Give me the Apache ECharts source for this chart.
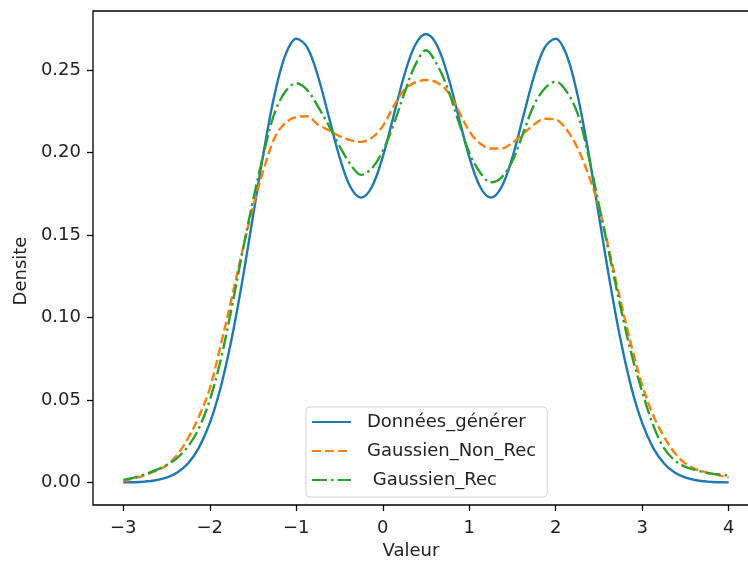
<!DOCTYPE html>
<html>
<head>
<meta charset="utf-8">
<script src="https://cdn.jsdelivr.net/npm/echarts@6/dist/echarts.min.js"></script>
<style>
html,body{margin:0;padding:0;background:#fff;overflow:hidden;width:748px;height:565px;}
#chart{width:760px;height:565px;}
</style>
</head>
<body>
<div id="chart"></div>
<script>
// x positions of the sampled points (step 0.125)
const xValues = [-3, -2.875, -2.75, -2.625, -2.5, -2.375, -2.25, -2.125, -2, -1.875, -1.75, -1.625, -1.5, -1.375, -1.25, -1.125, -1, -0.875, -0.75, -0.625, -0.5, -0.375, -0.25, -0.125, 0, 0.125, 0.25, 0.375, 0.5, 0.625, 0.75, 0.875, 1, 1.125, 1.25, 1.375, 1.5, 1.625, 1.75, 1.875, 2, 2.125, 2.25, 2.375, 2.5, 2.625, 2.75, 2.875, 3, 3.125, 3.25, 3.375, 3.5, 3.625, 3.75, 3.875, 4];
// series values
const donneesGenerer = [0.0001, 0.0002, 0.0006, 0.0014, 0.003, 0.0061, 0.0117, 0.0212, 0.036, 0.0575, 0.0864, 0.1218, 0.1614, 0.201, 0.2353, 0.2592, 0.269, 0.2639, 0.2464, 0.222, 0.1973, 0.1793, 0.1727, 0.1793, 0.1974, 0.2222, 0.247, 0.2652, 0.2719, 0.2652, 0.247, 0.2222, 0.1974, 0.1793, 0.1727, 0.1793, 0.1973, 0.222, 0.2464, 0.2639, 0.269, 0.2592, 0.2353, 0.201, 0.1614, 0.1218, 0.0864, 0.0575, 0.036, 0.0212, 0.0117, 0.0061, 0.003, 0.0014, 0.0006, 0.0002, 0.0001];
const gaussienNonRec = [0.001, 0.0025, 0.0045, 0.007, 0.0105, 0.017, 0.027, 0.040, 0.057, 0.083, 0.111, 0.140, 0.167, 0.190, 0.209, 0.218, 0.2215, 0.222, 0.217, 0.2135, 0.210, 0.2075, 0.2065, 0.209, 0.216, 0.228, 0.238, 0.2425, 0.244, 0.2425, 0.237, 0.2255, 0.213, 0.2055, 0.2025, 0.2025, 0.206, 0.2115, 0.217, 0.2205, 0.220, 0.214, 0.203, 0.187, 0.167, 0.139, 0.110, 0.083, 0.059, 0.041, 0.028, 0.018, 0.0115, 0.008, 0.006, 0.0045, 0.003];
const gaussienRec = [0.0016, 0.003, 0.005, 0.0075, 0.0105, 0.015, 0.022, 0.033, 0.050, 0.074, 0.105, 0.139, 0.171, 0.200, 0.224, 0.237, 0.242, 0.238, 0.228, 0.2165, 0.204, 0.193, 0.1865, 0.1905, 0.201, 0.217, 0.236, 0.253, 0.262, 0.2535, 0.239, 0.219, 0.200, 0.188, 0.182, 0.185, 0.195, 0.212, 0.229, 0.239, 0.243, 0.237, 0.224, 0.199, 0.168, 0.137, 0.106, 0.078, 0.055, 0.035, 0.021, 0.0135, 0.0095, 0.0075, 0.0058, 0.005, 0.0042];
// tick labels
const xTicks = [-3, -2, -1, 0, 1, 2, 3, 4];
const yTicks = [0, 0.05, 0.10, 0.15, 0.20, 0.25];
const seriesNames = ['Données_générer', 'Gaussien_Non_Rec', ' Gaussien_Rec'];
const xLabel = 'Valeur';
const yLabel = 'Densite';

const pair = arr => xValues.map((x, i) => [x, arr[i]]);
const font = 'DejaVu Sans';
const fs = 18;
const chart = echarts.init(document.getElementById('chart'), null, {renderer: 'canvas'});
chart.setOption({
  animation: false,
  backgroundColor: '#fff',
  grid: {left: 93, top: 11, width: 666, height: 496, show: true, borderColor: '#000', borderWidth: 1.3, backgroundColor: 'transparent'},
  xAxis: {
    type: 'value', min: -3.35, max: 4.35,
    name: xLabel, nameLocation: 'middle', nameGap: 37,
    nameTextStyle: {fontFamily: font, fontSize: fs, color: '#222', padding: [0, 30, 0, 0]},
    axisLine: {show: false, onZero: false},
    splitLine: {show: false},
    axisTick: {show: true, length: 6, lineStyle: {color: '#000', width: 1.3}, customValues: xTicks},
    axisLabel: {customValues: xTicks, margin: 14, fontFamily: font, fontSize: fs, color: '#222',
      formatter: v => (v < 0 ? '\u2212' + Math.abs(v) : String(v))}
  },
  yAxis: {
    type: 'value', min: -0.0136, max: 0.2858,
    name: yLabel, nameLocation: 'middle', nameGap: 62, nameRotate: 90,
    nameTextStyle: {fontFamily: font, fontSize: fs, color: '#222', padding: [0, 26, 0, 0]},
    axisLine: {show: false, onZero: false},
    splitLine: {show: false},
    axisTick: {show: true, length: 6, lineStyle: {color: '#000', width: 1.3}, customValues: yTicks},
    axisLabel: {customValues: yTicks, margin: 12, fontFamily: font, fontSize: fs, color: '#222',
      formatter: v => v.toFixed(2)}
  },
  legend: {
    show: true, orient: 'vertical', left: 306, top: 407,
    backgroundColor: 'rgba(255,255,255,0.8)', borderColor: '#d3d3d3', borderWidth: 1, borderRadius: 4,
    padding: [5, 11, 7, 5], itemGap: 9, itemWidth: 39, itemHeight: 20,
    itemStyle: {opacity: 0},
    textStyle: {fontFamily: font, fontSize: fs, color: '#222', lineHeight: 20, padding: [0, 0, 0, 11]},
    data: seriesNames
  },
  series: [
    {name: seriesNames[0], type: 'line', data: pair(donneesGenerer), symbol: 'none', smooth: 0.35,
      lineStyle: {color: '#1f77b4', width: 2.4}, itemStyle: {color: '#1f77b4'}},
    {name: seriesNames[1], type: 'line', data: pair(gaussienNonRec), symbol: 'none', smooth: 0.35,
      lineStyle: {color: '#ff7f0e', width: 2.4, type: [9, 4]}, itemStyle: {color: '#ff7f0e'}},
    {name: seriesNames[2], type: 'line', data: pair(gaussienRec), symbol: 'none', smooth: 0.35,
      lineStyle: {color: '#2ca02c', width: 2.4, type: [15, 4, 2.5, 4]}, itemStyle: {color: '#2ca02c'}}
  ]
});
</script>
</body>
</html>
